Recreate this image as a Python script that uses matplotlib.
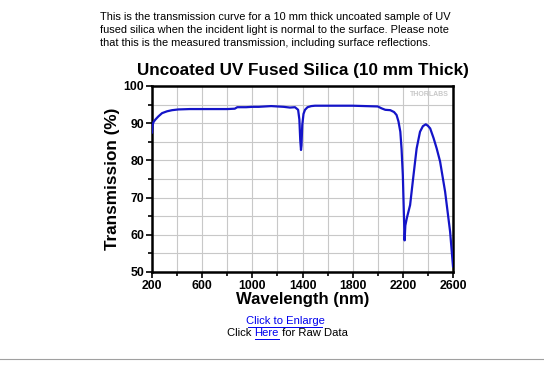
import matplotlib
matplotlib.use("Agg")
import matplotlib.pyplot as plt
from matplotlib.ticker import MultipleLocator

wavelength = [200, 205, 212, 225, 250, 280, 320, 360, 410, 500, 600, 700, 800, 860,
              880, 950, 1000, 1050, 1100, 1150, 1200, 1250, 1300, 1340, 1365, 1375,
              1382, 1388, 1392, 1398, 1408, 1420, 1440, 1470, 1500, 1600, 1700, 1800,
              1900, 2000, 2030, 2060, 2100, 2130, 2150, 2165, 2180, 2190, 2200, 2208,
              2214, 2220, 2232, 2258, 2285, 2310, 2337, 2360, 2383, 2400, 2418, 2445,
              2470, 2497, 2537, 2577, 2600]
transmission = [87.5, 89.5, 90.3, 90.9, 91.8, 92.7, 93.2, 93.5, 93.7, 93.8, 93.8, 93.8,
                93.8, 93.9, 94.3, 94.3, 94.4, 94.4, 94.5, 94.6, 94.5, 94.4, 94.2, 94.3,
                93.6, 91.0, 85.5, 82.8, 84.0, 89.5, 92.5, 93.6, 94.3, 94.6, 94.7, 94.7,
                94.7, 94.7, 94.6, 94.5, 94.0, 93.6, 93.5, 93.0, 92.2, 90.5, 87.7, 83.0,
                76.0, 66.0, 58.5, 62.5, 64.5, 68.0, 76.0, 83.2, 87.7, 89.2, 89.7, 89.3,
                88.6, 86.0, 83.2, 79.7, 71.6, 60.8, 51.5]

x_ticks = [200, 600, 1000, 1400, 1800, 2200, 2600]
y_ticks = [50, 60, 70, 80, 90, 100]

paragraph_lines = [
    "This is the transmission curve for a 10 mm thick uncoated sample of UV",
    "fused silica when the incident light is normal to the surface. Please note",
    "that this is the measured transmission, including surface reflections.",
]
title = "Uncoated UV Fused Silica (10 mm Thick)"
xlabel = "Wavelength (nm)"
ylabel = "Transmission (%)"

W, H = 544, 366
fig = plt.figure(figsize=(W/100, H/100), dpi=100)
fig.patch.set_facecolor("white")
ax = fig.add_axes([152/W, 1-272/H, (453-152)/W, (272-86)/H])

ax.plot(wavelength, transmission, color="#1414c8", lw=1.6, zorder=3)
ax.set_xlim(200, 2600)
ax.set_ylim(50, 100)
ax.set_xticks(x_ticks)
ax.set_yticks(y_ticks)
ax.xaxis.set_minor_locator(MultipleLocator(200))
ax.yaxis.set_minor_locator(MultipleLocator(5))
ax.grid(True, which="both", color="#c8c8c8", lw=0.8, zorder=0)
for s in ax.spines.values():
    s.set_linewidth(1.8)
    s.set_color("black")
ax.tick_params(which="both", direction="out", width=1.2, colors="black",
               labelsize=8.8, pad=1.5)
ax.tick_params(which="major", length=4)
ax.tick_params(which="minor", length=3)
for lbl in ax.get_xticklabels() + ax.get_yticklabels():
    lbl.set_fontweight("bold")
    lbl.set_family("Liberation Sans")

ax.set_xlabel(xlabel, fontsize=12, fontweight="bold", family="Liberation Sans", labelpad=0)
ax.set_ylabel(ylabel, fontsize=12.3, fontweight="bold", family="Liberation Sans", labelpad=3)
ax.text(0.985, 0.955, "THORLABS", transform=ax.transAxes, ha="right", va="center",
        fontsize=5, color="#c8c8c8", fontweight="bold", family="Liberation Sans")

fig.text(303/W, 1-70/H, title, ha="center", va="center", fontsize=12.3,
         fontweight="bold", family="Liberation Sans")
for i, line in enumerate(paragraph_lines):
    fig.text(100/W, 1-(17 + 13*i)/H, line, ha="left", va="center", fontsize=7.95,
             family="Liberation Sans")

link_color = "#0000ee"
fs = 8.1
fig.text(285/W, 1-321/H, "Click to Enlarge", ha="center", va="center",
         fontsize=fs, color=link_color, family="Liberation Sans")
fig.add_artist(plt.Line2D([248/W, 322/W], [1-327/H, 1-327/H], color=link_color, lw=0.7))

renderer = fig.canvas.get_renderer()
x0 = 227
parts = [("Click ", "black"), ("Here", link_color), (" for Raw Data", "black")]
for txt, col in parts:
    t = fig.text(x0/W, 1-333/H, txt, ha="left", va="center", fontsize=fs,
                 color=col, family="Liberation Sans")
    bb = t.get_window_extent(renderer)
    if col == link_color:
        fig.add_artist(plt.Line2D([x0/W, (x0 + bb.width)/W], [1-338.5/H, 1-338.5/H],
                                  color=link_color, lw=0.7))
    x0 += bb.width

fig.add_artist(plt.Line2D([0, 1], [1-359/H, 1-359/H], color="#a0a0a0", lw=0.8))

fig.savefig("out.png", dpi=100, facecolor="white")
